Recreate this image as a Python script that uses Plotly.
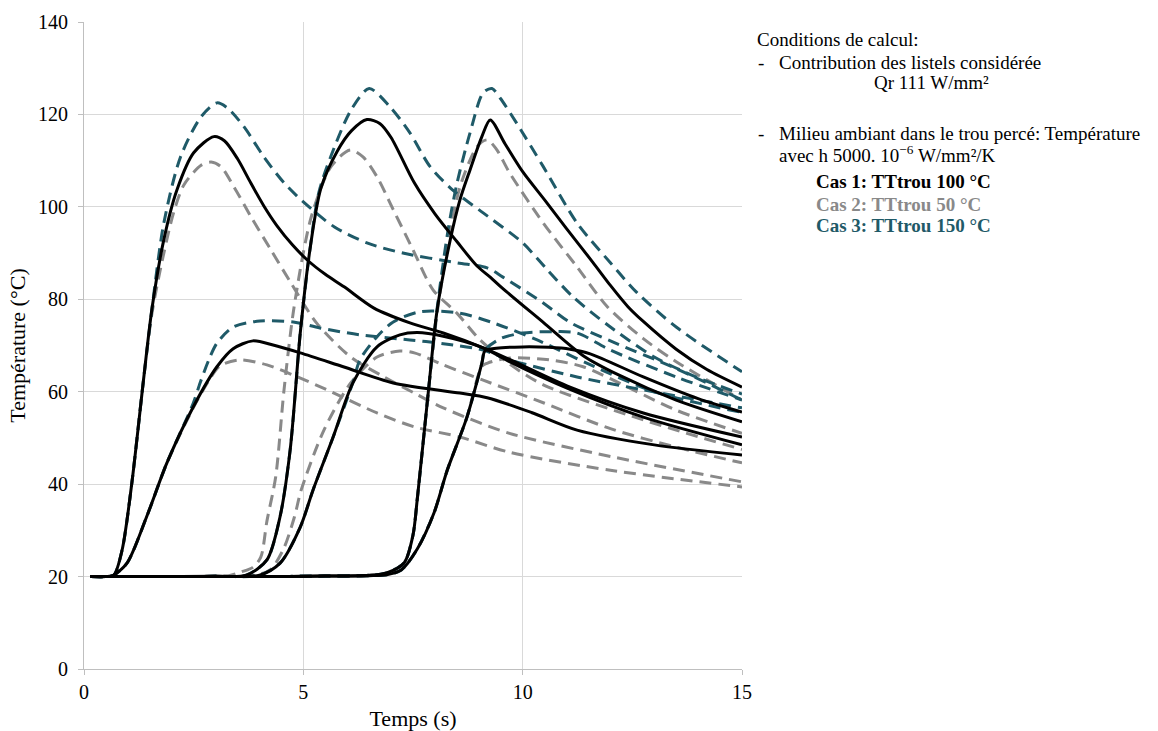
import plotly.graph_objects as go

# ---------------- data (time s, temperature °C) ----------------
# Case 1 (TTtrou 100 °C) - black solid
c1_a_t = [0.15, 0.5, 0.68, 0.87, 1.09, 1.35, 1.55, 1.82, 2.12, 2.5, 2.96, 3.2, 3.5, 3.8, 4.1, 4.4, 4.75, 5.09, 5.5, 5.93, 6.61, 7.43, 8.19, 9.1, 9.7, 11.08, 12.75, 15]
c1_a_T = [20, 20, 20.3, 25.8, 40.2, 62, 78, 92.9, 103.7, 111.7, 115.2, 114.3, 110.4, 105.2, 100.2, 95.9, 91.8, 88.5, 85.4, 82.7, 78.1, 74.9, 72.7, 69.5, 67, 61, 55.4, 50.2]
c1_b_t = [0.15, 0.5, 0.66, 0.98, 1.43, 1.89, 2.49, 3.03, 3.4, 3.85, 4.31, 4.93, 5.91, 7.05, 8.57, 9.19, 10.2, 11.24, 13, 15]
c1_b_T = [20, 20, 20.2, 22.9, 33, 44.6, 56.7, 65.4, 69.3, 71, 70.1, 68.4, 65.4, 61.9, 59.7, 58.7, 55.5, 51.7, 48.5, 46.3]
c1_c_t = [0.15, 1.5, 3.0, 3.7, 4.17, 4.47, 4.7, 4.93, 5.15, 5.4, 5.77, 6.1, 6.45, 6.75, 7.0, 7.53, 8.0, 8.5, 8.96, 9.26, 9.55, 10.47, 11.38, 12.15, 13.5, 15]
c1_c_T = [20, 20, 20.05, 20.3, 23.6, 33, 47.4, 72.7, 90.7, 104, 112, 116.5, 118.9, 118, 115, 105.2, 98.5, 92.5, 87.2, 84.8, 82.3, 75, 67.8, 63.8, 58.2, 53.5]
c1_d_t = [0.15, 1.5, 3.0, 4.0, 4.47, 4.93, 5.22, 5.68, 6.13, 6.68, 7.2, 7.6, 8.19, 9.1, 9.7, 11.08, 12.75, 15]
c1_d_T = [20, 20, 20.05, 20.3, 22.9, 30.7, 38.7, 50.2, 61.9, 69.7, 72.3, 72.8, 72, 69.5, 66.5, 60.5, 54.5, 48.5]
c1_e_t = [0.15, 2.0, 4.0, 5.5, 6.5, 6.9, 7.3, 7.5, 7.6, 7.85, 8.05, 8.35, 8.57, 8.8, 9.07, 9.26, 9.6, 10.0, 10.5, 11.0, 11.6, 12.0, 12.4, 12.75, 13.5, 14.2, 15]
c1_e_T = [20, 20, 20, 20.1, 20.3, 20.8, 23, 29, 37, 60, 77.7, 92.9, 101.5, 108, 115.2, 118.8, 113.6, 107.6, 101.5, 95.3, 88, 83, 78.4, 75.2, 69.2, 64.8, 61]
c1_f_t = [0.15, 2.0, 4.0, 5.5, 6.5, 6.9, 7.23, 7.6, 7.98, 8.28, 8.73, 9.07, 9.14, 9.4, 10.0, 10.6, 11.08, 11.54, 12.75, 14, 15]
c1_f_T = [20, 20, 20, 20.1, 20.2, 20.4, 21.4, 26, 33.8, 43, 54.5, 66.2, 68.8, 69.4, 69.7, 69.6, 69.2, 68.2, 63.2, 58.5, 55.6]

# Case 2 (TTtrou 50 °C) - grey dashed
c2_a_t = [0.15, 0.5, 0.68, 0.87, 1.09, 1.35, 1.55, 1.82, 2.05, 2.28, 2.67, 2.9, 3.12, 3.42, 3.81, 4.26, 4.72, 5.3, 6.08, 6.84, 7.53, 8.19, 9.7, 12, 15]
c2_a_T = [20, 20, 20.3, 25.8, 40.2, 62, 77, 90, 99, 104.8, 109, 109.7, 108.7, 104.3, 97.8, 90.7, 83.5, 74.9, 67.5, 63.2, 59.7, 56.5, 51, 46, 40.5]
c2_b_t = [0.15, 0.5, 0.66, 0.98, 1.43, 1.89, 2.49, 2.85, 3.1, 3.56, 4.17, 4.77, 5.54, 6.68, 7.53, 8.57, 9.7, 12, 15]
c2_b_T = [20, 20, 20.2, 22.9, 33, 44.6, 56.5, 62.5, 65.6, 66.9, 65.8, 63.6, 60.4, 55.4, 52.4, 50.2, 46.9, 43, 39.4]
c2_c_t = [0.15, 1.5, 2.8, 3.3, 3.58, 3.85, 4.03, 4.17, 4.37, 4.56, 4.79, 5.18, 5.63, 6.07, 6.36, 6.68, 7.05, 7.5, 7.96, 8.5, 9.03, 9.7, 10.47, 12.75, 15]
c2_c_T = [20, 20, 20.05, 20.2, 21, 22, 24.2, 32, 41.6, 60.4, 78.4, 97.8, 108.7, 112.3, 110.8, 106.5, 99.4, 90.7, 82, 77, 71.2, 66, 61.5, 53.9, 47.5]
c2_d_t = [0.15, 1.5, 3.0, 3.9, 4.25, 4.55, 4.8, 4.95, 5.47, 6.08, 6.68, 7.2, 7.53, 8.19, 9.1, 10.5, 12, 13.5, 15]
c2_d_T = [20, 20, 20.05, 20.3, 21.5, 26, 33, 38.7, 51.7, 61.9, 67.5, 68.8, 68.4, 65.8, 62.5, 57.5, 52, 48, 44.6]
c2_e_t = [0.15, 2.0, 4.0, 5.5, 6.5, 6.9, 7.3, 7.5, 7.6, 7.85, 8.05, 8.3, 8.57, 8.96, 9.19, 9.4, 9.7, 10.47, 11.24, 11.93, 12.75, 13.5, 15]
c2_e_T = [20, 20, 20, 20.1, 20.3, 20.8, 23, 29, 37, 60, 77, 92, 104.3, 113, 114.5, 112.5, 107.4, 96.5, 87, 78.4, 71.5, 66.5, 58.2]
c2_f_t = [0.15, 2.0, 4.0, 5.5, 6.5, 6.9, 7.23, 7.6, 7.98, 8.28, 8.73, 9.07, 9.2, 9.7, 10.6, 11.38, 12.5, 13.5, 15]
c2_f_T = [20, 20, 20, 20.1, 20.2, 20.4, 21.4, 26, 33.8, 43, 54.5, 65.5, 66.2, 67.3, 66.9, 65.4, 60.5, 56, 51]

# Case 3 (TTtrou 150 °C) - teal dashed
c3_a_t = [0.15, 0.5, 0.68, 0.87, 1.09, 1.35, 1.55, 1.82, 2.2, 2.67, 3.03, 3.27, 3.65, 4.1, 4.56, 5.02, 5.7, 6.45, 7.27, 8.5, 9.19, 9.55, 10.47, 11.08, 12, 13.5, 15]
c3_a_T = [20, 20, 20.3, 25.8, 40.2, 62, 78, 96.5, 110.8, 119.5, 122.5, 121.4, 117.3, 110.8, 105.2, 100.9, 95.7, 92.2, 90, 87.9, 86.8, 84.8, 79.2, 75, 71, 65, 58.2]
c3_b_t = [0.15, 0.5, 0.66, 0.98, 1.43, 1.89, 2.49, 2.65, 2.85, 3.03, 3.4, 4.01, 4.77, 5.38, 6.29, 7.43, 8.19, 9.1, 9.7, 11.24, 12.75, 15]
c3_b_T = [20, 20, 20.2, 22.9, 33, 44.6, 57.5, 62, 67, 70.5, 74, 75.3, 75.1, 73.8, 72.3, 71.2, 70.4, 69, 66.9, 63.2, 60.4, 56.5]
c3_c_t = [0.15, 1.5, 3.0, 3.7, 4.17, 4.47, 4.7, 4.93, 5.15, 5.35, 5.63, 6.09, 6.5, 6.98, 7.43, 7.89, 8.4, 9.1, 10.0, 10.56, 11.15, 12, 13, 14, 15]
c3_c_T = [20, 20, 20.05, 20.3, 23.6, 33, 47.4, 72.7, 90.7, 103, 111, 121, 125.6, 121.6, 116, 108.7, 103.7, 98.7, 92.2, 86.4, 80.5, 74, 67.5, 63, 59.5]
c3_d_t = [0.15, 1.5, 3.0, 4.0, 4.47, 4.93, 5.22, 5.68, 6.13, 6.29, 6.68, 7.05, 7.66, 8.57, 9.33, 10.33, 11.5, 13, 15]
c3_d_T = [20, 20, 20.05, 20.3, 22.9, 30.7, 38.7, 50.2, 62, 66.9, 71.9, 75.1, 77.3, 77.0, 74.9, 71.2, 66, 60, 55.5]
c3_e_t = [0.15, 2.0, 4.0, 5.5, 6.5, 6.9, 7.3, 7.5, 7.6, 7.85, 8.05, 8.3, 8.5, 8.8, 9.1, 9.3, 9.49, 9.87, 10.47, 11.24, 12, 12.6, 13.5, 15]
c3_e_T = [20, 20, 20, 20.1, 20.3, 20.8, 23, 29, 37, 60, 78, 95, 105, 116, 124.7, 125.6, 123.5, 118, 108.7, 96.5, 87.9, 81.5, 74, 64.3]
c3_f_t = [0.15, 2.0, 4.0, 5.5, 6.5, 6.9, 7.23, 7.6, 7.98, 8.28, 8.73, 9.07, 9.14, 9.5, 10.0, 10.7, 11.24, 12, 13.5, 15]
c3_f_T = [20, 20, 20, 20.1, 20.2, 20.4, 21.4, 26, 33.8, 43, 54.5, 66.2, 69, 71.5, 72.7, 73, 72.7, 69, 63.2, 58.2]

x_ticks = [0, 5, 10, 15]
y_ticks = [0, 20, 40, 60, 80, 100, 120, 140]

# ---------------- styling ----------------
BLACK = "#000000"
GREY = "#898989"
TEAL = "#1f5a68"
FONT = "Liberation Serif"

W, H = 1158, 731
L, R, T, B = 84, 742, 22, 669  # plot area in pixels

fig = go.Figure()

series = [
    (c2_a_t, c2_a_T, GREY, "dash"), (c2_b_t, c2_b_T, GREY, "dash"),
    (c2_c_t, c2_c_T, GREY, "dash"), (c2_d_t, c2_d_T, GREY, "dash"),
    (c2_e_t, c2_e_T, GREY, "dash"), (c2_f_t, c2_f_T, GREY, "dash"),
    (c3_a_t, c3_a_T, TEAL, "dash"), (c3_b_t, c3_b_T, TEAL, "dash"),
    (c3_c_t, c3_c_T, TEAL, "dash"), (c3_d_t, c3_d_T, TEAL, "dash"),
    (c3_e_t, c3_e_T, TEAL, "dash"), (c3_f_t, c3_f_T, TEAL, "dash"),
    (c1_a_t, c1_a_T, BLACK, "solid"), (c1_b_t, c1_b_T, BLACK, "solid"),
    (c1_c_t, c1_c_T, BLACK, "solid"), (c1_d_t, c1_d_T, BLACK, "solid"),
    (c1_e_t, c1_e_T, BLACK, "solid"), (c1_f_t, c1_f_T, BLACK, "solid"),
]
for xs, ys, col, dash in series:
    fig.add_trace(go.Scatter(
        x=xs, y=ys, mode="lines",
        line=dict(color=col, width=3, shape="spline", smoothing=0.8,
                  dash="12px,7px" if dash == "dash" else "solid"),
        showlegend=False, hoverinfo="skip"))

axis_common = dict(
    showgrid=True, gridcolor="#d9d9d9", gridwidth=1,
    showline=True, linecolor="#bfbfbf", linewidth=1,
    ticks="outside", ticklen=5, tickcolor="#bfbfbf", automargin=False,
    zeroline=False, tickfont=dict(family=FONT, size=20, color="#000000"),
)
fig.update_xaxes(range=[0, 15], tickvals=x_ticks, **axis_common,
                 title=dict(text="Temps (s)", font=dict(family=FONT, size=22, color="#000"), standoff=9))
fig.update_yaxes(range=[0, 140], tickvals=y_ticks, **axis_common, ticklabelstandoff=6,
                 title=dict(text="Température (°C)", font=dict(family=FONT, size=22, color="#000"), standoff=6))


def px(x, y):
    return (x - L) / (R - L), (B - y) / (B - T)


def note(x, y, text, color="#000000", size=19):
    xp, yp = px(x, y)
    fig.add_annotation(x=xp, y=yp, xref="paper", yref="paper", text=text,
                       showarrow=False, xanchor="left", yanchor="middle",
                       font=dict(family=FONT, size=size, color=color))


note(755, 40, "Conditions de calcul:")
note(756, 62, "-")
note(777, 62, "Contribution des listels considérée")
note(872, 82, "Qr 111 W/mm²")
note(756, 133, "-")
note(777, 133, "Milieu ambiant dans le trou percé: Température")
note(777, 154, "avec h 5000. 10<sup>−6</sup> W/mm²/K")
note(814, 182, "<b>Cas 1: TTtrou 100 °C</b>", BLACK)
note(814, 204, "<b>Cas 2: TTtrou 50 °C</b>", GREY)
note(814, 226, "<b>Cas 3: TTtrou 150 °C</b>", TEAL)

fig.update_layout(
    width=W, height=H,
    margin=dict(l=L, r=W - R, t=T, b=H - B, pad=0, autoexpand=False),
    paper_bgcolor="white", plot_bgcolor="white",
    font=dict(family=FONT),
)

fig.write_html("out.html", config={"displayModeBar": False},
               post_script="document.body.style.margin='0px';")
